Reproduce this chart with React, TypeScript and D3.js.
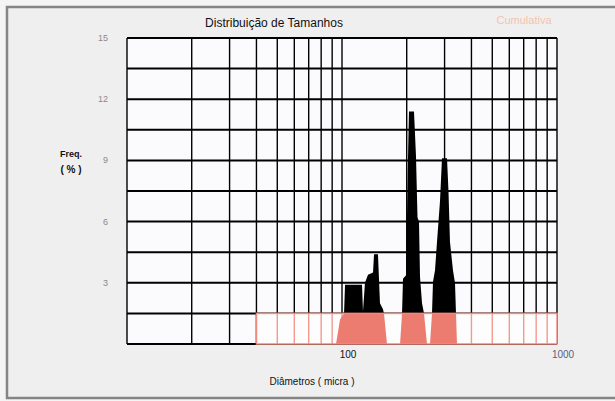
import React from "react";
import * as d3 from "d3";

// Diameter (micra) and frequency (%) profile of the size distribution
const diameters = [93.8, 97.9, 102.2, 103.3, 123.9, 125.2, 127.9, 132.1, 139.4, 140.9, 147.0, 150.2, 155.1, 156.8, 161.9,
  186.2, 190.2, 192.2, 199.5, 200.6, 202.8, 204.9, 216.2, 220.9, 224.5, 228.1, 230.6, 235.6, 240.7, 248.5,
  256.6, 262.2, 265.0, 270.7, 276.6, 285.6, 291.8, 307.9, 312.8, 317.9, 328.3, 335.4, 339.0, 342.7];
const frequencies = [0, 1.2, 1.5, 2.9, 2.9, 1.6, 3.0, 3.4, 3.5, 4.4, 4.4, 2.0, 1.7, 1.5, 0,
  0, 1.5, 3.2, 3.4, 6.2, 9.2, 11.4, 11.4, 9.2, 6.2, 6.0, 3.3, 2.0, 1.5, 0,
  0, 1.5, 3.05, 3.6, 5.0, 7.0, 9.1, 9.1, 7.5, 5.0, 3.6, 3.0, 1.5, 0];

const yTicks = [3, 6, 9, 12, 15];
const yGrid = [0, 1.5, 3, 4.5, 6, 7.5, 9, 10.5, 12, 13.5, 15];
const xGrid = [10, 20, 30, 40, 50, 60, 70, 80, 90, 100, 200, 300, 400, 500, 600, 700, 800, 900, 1000];
const xTicks = [100, 1000];
const bandStart = 40;
const bandTop = 1.5;

const title = "Distribuição de Tamanhos";
const legendText = "Cumulativa";
const xTitle = "Diâmetros ( micra )";

export default function App() {
  const W = 615, H = 401;
  const x = d3.scaleLog().domain([10, 1000]).range([127, 557]);
  const y = d3.scaleLinear().domain([0, 15]).range([344, 38]);
  const pts = diameters.map((d, i) => [d, frequencies[i]] as [number, number]);
  const area = d3.area<[number, number]>().x(d => x(d[0])).y0(y(0)).y1(d => y(d[1]));
  const font = "'Liberation Sans', Arial, sans-serif";
  const bx0 = x(bandStart), bx1 = x(1000), by0 = y(bandTop), by1 = y(0);

  return (
    <svg width={W} height={H} style={{ position: "absolute", left: 0, top: 0 }}>
      <defs>
        <clipPath id="above"><rect x={x(10)} y={y(15)} width={x(1000) - x(10)} height={y(bandTop) - y(15)} /></clipPath>
        <clipPath id="band"><rect x={bx0} y={by0} width={bx1 - bx0} height={by1 - by0} /></clipPath>
      </defs>
      <rect x={0} y={0} width={W} height={H} fill="#f4f4f4" />
      <rect x={7} y={7} width={W} height={391} fill="#efeff0" stroke="#858585" strokeWidth={2.5} />
      <text x={274} y={27} textAnchor="middle" fontFamily={font} fontSize={12} fill="#111">{title}</text>
      <text x={524} y={24} textAnchor="middle" fontFamily={font} fontSize={11} fill="#f3c4ae">{legendText}</text>
      <rect x={x(10)} y={y(15)} width={x(1000) - x(10)} height={y(0) - y(15)} fill="#fbfbfd" />
      {xGrid.map(v => (
        <line key={"vx" + v} x1={x(v)} x2={x(v)} y1={y(15)} y2={y(0)} stroke="#000" strokeWidth={1.4} />
      ))}
      {yGrid.map(v => (
        <line key={"hy" + v} x1={x(10)} x2={x(1000)} y1={y(v)} y2={y(v)} stroke="#000" strokeWidth={2} />
      ))}
      <path d={area(pts) || ""} fill="#000" clipPath="url(#above)" />
      <rect x={bx0} y={by0} width={bx1 - bx0} height={by1 - by0} fill="#fdfdfd" />
      {xGrid.filter(v => v > bandStart && v < 1000).map(v => (
        <line key={"bx" + v} x1={x(v)} x2={x(v)} y1={by0} y2={by1} stroke="#f29a90" strokeWidth={1.4} />
      ))}
      <path d={area(pts) || ""} fill="#ec7b70" clipPath="url(#band)" />
      <rect x={bx0} y={by0} width={bx1 - bx0} height={by1 - by0} fill="none" stroke="#ef8a80" strokeWidth={1.5} />
      {yTicks.map(v => (
        <text key={"yt" + v} x={108} y={y(v) + 3} textAnchor="end" fontFamily={font} fontSize={9} fill="#8a8a8a">{v}</text>
      ))}
      {xTicks.map(v => (
        <text key={"xt" + v} x={x(v) + 6} y={358} textAnchor="middle" fontFamily={font} fontSize={10}
          fill={v === 1000 ? "#5a5f7a" : "#111"}>{v}</text>
      ))}
      <text x={71} y={157} textAnchor="middle" fontFamily={font} fontSize={9} fontWeight="bold" fill="#111">Freq.</text>
      <text x={71} y={173} textAnchor="middle" fontFamily={font} fontSize={10} fontWeight="bold" fill="#111">( % )</text>
      <text x={312} y={385} textAnchor="middle" fontFamily={font} fontSize={10} fill="#111">{xTitle}</text>
    </svg>
  );
}
